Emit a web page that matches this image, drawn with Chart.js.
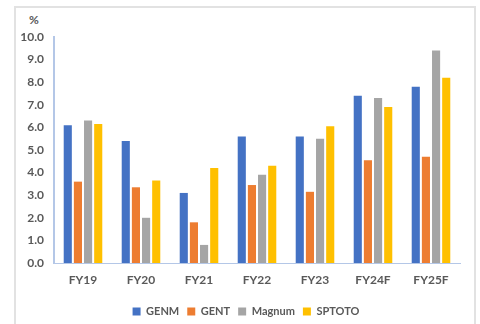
<!DOCTYPE html>
<html>
<head>
<meta charset="utf-8">
<script src="https://cdn.jsdelivr.net/npm/chart.js@4.4.0/dist/chart.umd.min.js"></script>
<style>
  html, body { margin: 0; padding: 0; background: #fff; }
  #wrap { position: relative; width: 480px; height: 324px; overflow: hidden; }
  #frame { position: absolute; left: 14px; top: 6px; width: 458px; height: 340px; border: 2px solid #e2e2e2; }
  #pct { position: absolute; left: 29px; top: 12px; font: bold 12px Lato, sans-serif; color: #595959; }
  canvas { position: absolute; left: 0; top: 0; }
</style>
</head>
<body>
<div id="wrap">
  <div id="frame"></div>
  <span id="pct">%</span>
  <canvas id="chart" width="480" height="324"></canvas>
</div>
<script>
/* ================= DATA ================= */
const years = ["FY19", "FY20", "FY21", "FY22", "FY23", "FY24F", "FY25F"];
const genm = [6.1, 5.4, 3.1, 5.6, 5.6, 7.4, 7.8];
const gent = [3.6, 3.35, 1.8, 3.45, 3.15, 4.55, 4.7];
const magnum = [6.3, 2.0, 0.8, 3.9, 5.5, 7.3, 9.4];
const sptoto = [6.15, 3.65, 4.2, 4.3, 6.05, 6.9, 8.2];
const yTicks = [0, 1, 2, 3, 4, 5, 6, 7, 8, 9, 10];

const font = { family: "Lato, sans-serif", size: 12, weight: "bold" };
const axisColor = "#b4c7e7";

const bar = (label, data, color) => ({
  label, data,
  backgroundColor: color,
  borderWidth: 0,
  barPercentage: 0.8,
  categoryPercentage: 0.7
});

/* legend sits a bit right of centre in the original */
const legendShift = {
  id: "legendShift",
  afterLayout: chart => {
    chart.legend.left += 16;
    chart.legend.right += 16;
  }
};

/* ================= CHART ================= */
new Chart(document.getElementById("chart"), {
  type: "bar",
  data: {
    labels: years,
    datasets: [
      bar("GENM", genm, "#4472C4"),
      bar("GENT", gent, "#ED7D31"),
      bar("Magnum", magnum, "#A5A5A5"),
      bar("SPTOTO", sptoto, "#FFC000")
    ]
  },
  plugins: [legendShift],
  options: {
    responsive: false,
    animation: false,
    layout: { padding: { left: 0, right: 20, top: 37, bottom: -3 } },
    plugins: {
      legend: {
        position: "bottom",
        labels: {
          font: { ...font, size: 11 }, color: "#595959",
          boxWidth: 8, boxHeight: 8, padding: 8
        }
      },
      tooltip: { enabled: false }
    },
    scales: {
      x: {
        grid: { display: false, drawTicks: false },
        border: { color: axisColor, width: 1 },
        ticks: { font, color: "#595959", padding: 10 },
        afterFit: s => { s.height = 35; }
      },
      y: {
        min: 0, max: 10,
        afterBuildTicks: s => { s.ticks = yTicks.map(v => ({ value: v })); },
        grid: { display: false, drawTicks: false },
        border: { color: axisColor, width: 2 },
        ticks: { font, color: "#595959", padding: 10, callback: v => v.toFixed(1) },
        afterFit: s => { s.width = 54; }
      }
    }
  }
});
</script>
</body>
</html>
